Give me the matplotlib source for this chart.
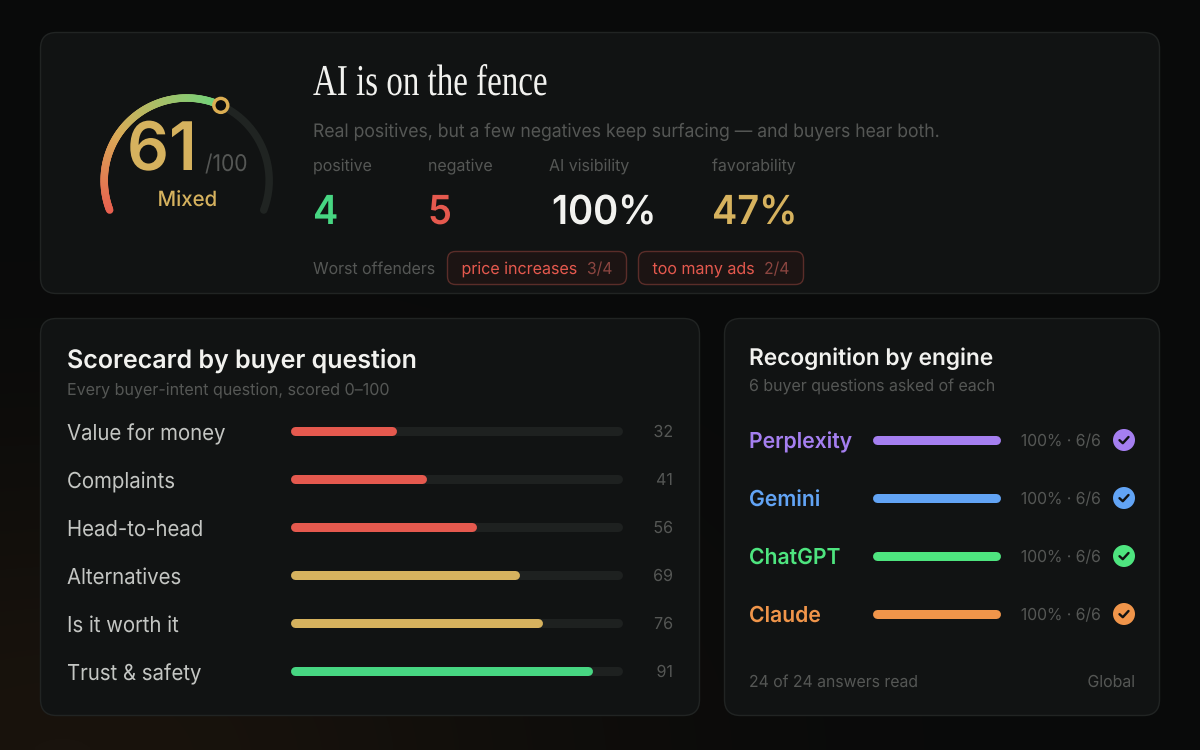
import numpy as np
import matplotlib
matplotlib.use("Agg")
import matplotlib.pyplot as plt
from matplotlib.collections import LineCollection
from matplotlib.colors import LinearSegmentedColormap
from matplotlib.patches import FancyBboxPatch, Circle
from matplotlib.patheffects import AbstractPathEffect
from matplotlib.transforms import Affine2D

# ---------- data ----------
overall_score = 61
overall_max = 100
overall_label = "Mixed"
headline = "AI is on the fence"
subhead = "Real positives, but a few negatives keep surfacing \u2014 and buyers hear both."
stat_names = ["positive", "negative", "AI visibility", "favorability"]
stat_values = ["4", "5", "100%", "47%"]
offender_names = ["price increases", "too many ads"]
offender_counts = ["3/4", "2/4"]
question_names = ["Value for money", "Complaints", "Head-to-head",
                  "Alternatives", "Is it worth it", "Trust & safety"]
question_scores = [32, 41, 56, 69, 76, 91]
engine_names = ["Perplexity", "Gemini", "ChatGPT", "Claude"]
engine_pct = [100, 100, 100, 100]
engine_read = ["6/6", "6/6", "6/6", "6/6"]

# ---------- palette ----------
RED, GOLD, GREEN = "#e5594e", "#d6b25e", "#47d682"
WHITE, LABEL, DIM = "#f2f2ef", "#c4c6c3", "#555755"
CARD, EDGE, TRACK = "#111313", "#212423", "#1e2120"
ENGINE_COLORS = ["#a57ff0", "#62a4f5", "#4ee57f", "#f0954a"]
STAT_COLORS = [GREEN, RED, WHITE, GOLD]

plt.rcParams["font.family"] = ["Inter", "DejaVu Sans"]
fig = plt.figure(figsize=(12, 7.5), dpi=100)
ax = fig.add_axes([0, 0, 1, 1])
ax.set_xlim(0, 1200)
ax.set_ylim(750, 0)
ax.axis("off")

# page background with warm glow in the lower left
yy, xx = np.mgrid[0:750:150j, 0:1200:240j]
glow = np.exp(-(((xx - 60) / 520) ** 2 + ((yy - 760) / 300) ** 2))
bg = LinearSegmentedColormap.from_list("bg", ["#090a0a", "#19130d"])
ax.imshow(glow, extent=(0, 1200, 750, 0), cmap=bg, vmin=0, vmax=1,
          aspect="auto", zorder=0, interpolation="bilinear")


class Squeeze(AbstractPathEffect):
    """Narrow a text horizontally about its anchor, keeping its height."""

    def __init__(self, sx, x0):
        super().__init__()
        self.sx, self.x0 = sx, x0

    def draw_path(self, renderer, gc, tpath, affine, rgbFace=None):
        squeeze = Affine2D().translate(-self.x0, 0).scale(self.sx, 1).translate(self.x0, 0)
        renderer.draw_path(gc, tpath, affine + squeeze, rgbFace)


def px(p):
    return p * 0.72


def txt(x, y, s, size, color, weight="normal", ha="left", family=None, sx=1.0):
    kw = {"family": family} if family else {}
    x0 = ax.transData.transform((x, y))[0]
    return ax.text(x, y, s, fontsize=px(size), color=color, fontweight=weight,
                   ha=ha, va="baseline", zorder=6,
                   path_effects=[Squeeze(sx, x0)], **kw)


def card(x0, y0, x1, y1, r=16, fc=CARD, ec=EDGE, lw=1.0):
    ax.add_patch(FancyBboxPatch((x0 + r, y0 + r), x1 - x0 - 2 * r, y1 - y0 - 2 * r,
                                boxstyle=f"round,pad={r},rounding_size={r}",
                                fc=fc, ec=ec, lw=lw, zorder=2))


def pill(x0, x1, y, h, color, z=4):
    ax.plot([x0 + h / 2, x1 - h / 2], [y, y], color=color, lw=px(h),
            solid_capstyle="round", zorder=z)


card(40.5, 32.5, 1159.5, 293.5)
card(40.5, 318.5, 699.5, 715.5)
card(724.5, 318.5, 1159.5, 715.5)

# ---------- gauge ----------
cx, cy, rad = 186.7, 180.5, 82.5
a0, a1 = 201.0, -21.0


def ang(frac):
    return np.radians(a0 + (a1 - a0) * frac)


def gauge_xy(frac):
    return cx + rad * np.cos(ang(frac)), cy - rad * np.sin(ang(frac))


frac = overall_score / overall_max
tf = np.linspace(0, 1, 60)
gx, gy = gauge_xy(tf)
ax.plot(gx, gy, color="#202422", lw=px(7.5), solid_capstyle="round", zorder=3)

cmap = LinearSegmentedColormap.from_list(
    "gauge", [(0, "#e8604f"), (0.42, "#d9ac57"), (1, "#6fd47c")])
vf = np.linspace(0, frac, 140)
vx, vy = gauge_xy(vf)
pts = np.column_stack([vx, vy])
segs = np.stack([pts[:-1], pts[1:]], axis=1)
ax.add_collection(LineCollection(segs, colors=cmap(vf[:-1] / frac), lw=px(7.5),
                                 capstyle="round", zorder=4))
mx, my = gauge_xy(frac)
ax.add_patch(Circle((mx, my), 7.0, fc="#0c0d0d", ec="#dcae52", lw=px(3.4), zorder=5))

txt(127, 170, str(overall_score), 67, GOLD, "semibold", sx=0.98)
txt(205, 171, f"/{overall_max}", 23, DIM, sx=0.91)
txt(187.5, 206, overall_label, 21, GOLD, "medium", ha="center", sx=0.97)

# ---------- header ----------
txt(313, 95, headline, 44, WHITE, family=["Liberation Serif", "DejaVu Serif"], sx=0.75)
txt(313, 137, subhead, 18.6, DIM, sx=0.944)

stat_x = [313, 428, 549, 712]
for x, name, val, col in zip(stat_x, stat_names, stat_values, STAT_COLORS):
    txt(x, 171, name, 16.5, DIM, sx=0.965)
    txt(x + (3 if val == "100%" else 0), 224, val, 40, col, "semibold", sx=0.95)

txt(313, 274, "Worst offenders", 16.5, DIM, sx=0.96)
chip_x0 = [447.5, 638.5]
chip_x1 = [626.5, 803.5]
for x0, x1, name, count in zip(chip_x0, chip_x1, offender_names, offender_counts):
    card(x0, 251.5, x1, 284.5, r=8, fc="#1c1413", ec="#5a2d29")
    txt(x0 + 14, 274, name, 16.5, RED, sx=0.97)
    txt(x1 - 14, 274, count, 16.5, "#8a4540", ha="right", sx=0.95)

# ---------- scorecard ----------
txt(67, 368, "Scorecard by buyer question", 25.5, WHITE, "semibold", sx=0.98)
txt(67, 395, "Every buyer-intent question, scored 0\u2013100", 16.5, DIM, sx=0.973)

bar_x0, bar_w = 290.5, 332
for i, (name, score) in enumerate(zip(question_names, question_scores)):
    y = 431 + 48 * i
    col = RED if score < 60 else GOLD if score < 80 else GREEN
    txt(67, y + 9, name, 22, LABEL, sx=0.925)
    pill(bar_x0, bar_x0 + bar_w, y, 9, TRACK, z=3)
    pill(bar_x0, bar_x0 + bar_w * score / 100, y, 9, col)
    txt(673, y + 6, str(score), 16.5, DIM, ha="right", sx=0.97)

# ---------- recognition ----------
txt(749, 365, "Recognition by engine", 23, WHITE, "semibold", sx=0.985)
txt(749, 391, "6 buyer questions asked of each", 16.5, DIM, sx=0.965)

eng_x0, eng_w = 872.5, 128
for i, (name, pct, read, col) in enumerate(zip(engine_names, engine_pct,
                                               engine_read, ENGINE_COLORS)):
    y = 440 + 58 * i
    txt(749, y + 8, name, 22, col, "semibold", sx=0.96)
    pill(eng_x0, eng_x0 + eng_w * pct / 100, y, 9, col)
    txt(1101, y + 6, f"{pct}% \u00b7 {read}", 16.5, DIM, ha="right", sx=0.95)
    ax.add_patch(Circle((1124, y), 11, fc=col, ec="none", zorder=4))
    ax.plot([1124 - 4.5, 1124 - 1.2, 1124 + 4.5], [y + 0.2, y + 3.2, y - 3.0],
            color="#111313", lw=px(2.4), solid_capstyle="round",
            solid_joinstyle="round", zorder=5)

txt(749, 687, "24 of 24 answers read", 16.5, DIM, sx=0.955)
txt(1135, 687, "Global", 16.5, DIM, ha="right", sx=0.96)

fig.savefig("out.png", dpi=100, facecolor="#0a0b0b")
